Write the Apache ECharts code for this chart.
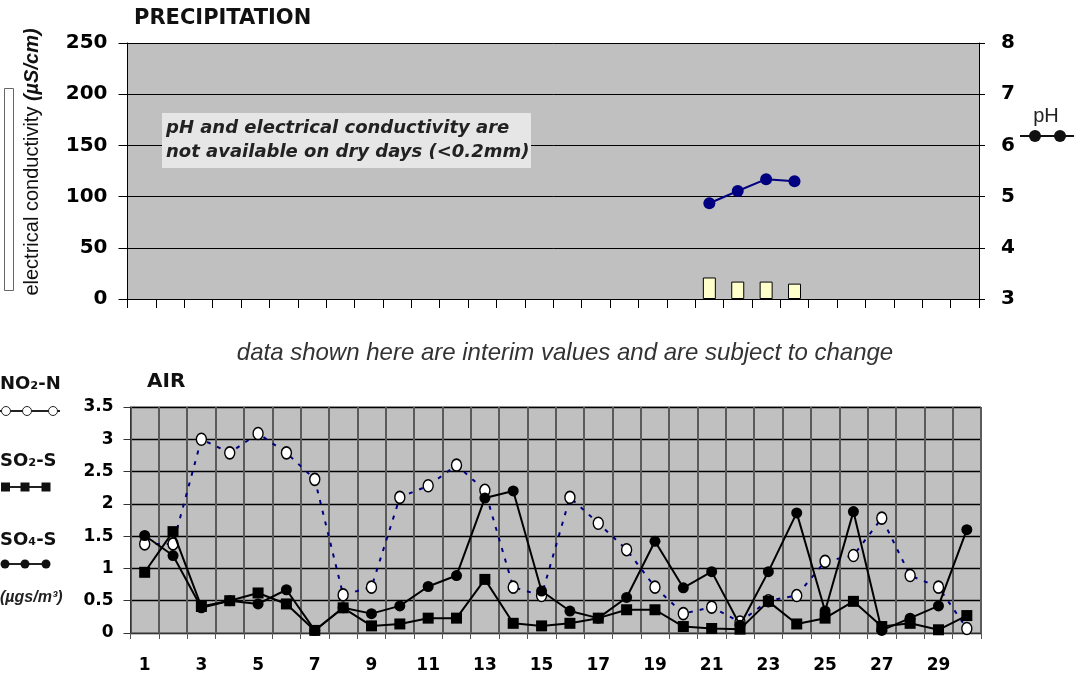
<!DOCTYPE html>
<html>
<head>
<meta charset="utf-8">
<script src="https://cdn.jsdelivr.net/npm/echarts@6/dist/echarts.min.js"></script>
<style>
html,body{margin:0;padding:0;background:#fff;}
#chart{width:1074px;height:674px;}
</style>
</head>
<body>
<div id="chart"></div>
<script>
// ---- data ----
const days = ['1','2','3','4','5','6','7','8','9','10','11','12','13','14','15','16','17','18','19','20','21','22','23','24','25','26','27','28','29','30'];
const ecTicks = [0, 50, 100, 150, 200, 250];
const phTicks = [3, 4, 5, 6, 7, 8];
const airTicks = [0, 0.5, 1, 1.5, 2, 2.5, 3, 3.5];
// electrical conductivity (uS/cm), only days 21-24
const conductivity = ['-','-','-','-','-','-','-','-','-','-','-','-','-','-','-','-','-','-','-','-',21,17,17,15,'-','-','-','-','-','-'];
// pH, only days 21-24
const ph = ['-','-','-','-','-','-','-','-','-','-','-','-','-','-','-','-','-','-','-','-',4.87,5.11,5.34,5.30,'-','-','-','-','-','-'];
// air (ugs/m3)
const no2n = [1.38,1.38,3.0,2.79,3.09,2.79,2.38,0.59,0.71,2.10,2.28,2.60,2.21,0.71,0.58,2.10,1.70,1.29,0.71,0.30,0.40,0.17,0.50,0.58,1.11,1.20,1.78,0.89,0.71,0.07];
const so2s = [0.94,1.57,0.41,0.50,0.62,0.45,0.04,0.39,0.11,0.14,0.23,0.23,0.83,0.15,0.11,0.15,0.23,0.36,0.36,0.10,0.07,0.06,0.49,0.14,0.23,0.49,0.10,0.15,0.05,0.27];
const so4s = [1.51,1.20,0.39,0.50,0.45,0.67,0.04,0.39,0.30,0.42,0.72,0.89,2.09,2.20,0.65,0.34,0.23,0.55,1.42,0.70,0.95,0.12,0.95,1.86,0.34,1.88,0.04,0.23,0.42,1.60];

const NUM = 'DejaVu Sans';
const chart = echarts.init(document.getElementById('chart'), null, {renderer:'canvas'});

const option = {
  backgroundColor: '#ffffff',
  animation: false,
  grid: [
    {left: 127.5, top: 43, width: 851.5, height: 256, backgroundColor: '#c0c0c0', show: true, borderWidth: 0},
    {left: 130.5, top: 407, width: 850.5, height: 226, backgroundColor: '#c0c0c0', show: true, borderColor: '#808080', borderWidth: 1}
  ],
  xAxis: [
    {gridIndex: 0, type: 'category', data: days, boundaryGap: true,
     axisLine: {lineStyle: {color: '#000', width: 1}},
     axisTick: {show: true, interval: 0, length: 9, lineStyle: {color: '#000'}},
     axisLabel: {show: false}, splitLine: {show: false}},
    {gridIndex: 1, type: 'category', data: days, boundaryGap: true,
     axisLine: {lineStyle: {color: '#333', width: 1}},
     axisTick: {show: true, interval: 0, length: 6, lineStyle: {color: '#555'}},
     axisLabel: {interval: 1, margin: 24, fontFamily: NUM, fontWeight: 'bold', fontSize: 17, color: '#000'},
     splitLine: {show: true, interval: 0, lineStyle: {color: '#5a5a5a', width: 2}}}
  ],
  yAxis: [
    {gridIndex: 0, type: 'value', min: ecTicks[0], max: ecTicks[ecTicks.length-1], interval: 50, position: 'left',
     axisLine: {show: true, lineStyle: {color: '#000'}},
     axisTick: {show: true, length: 9, lineStyle: {color: '#000'}},
     axisLabel: {margin: 20, fontFamily: NUM, fontWeight: 'bold', fontSize: 20, color: '#000'},
     splitLine: {show: true, lineStyle: {color: '#000', width: 1}}},
    {gridIndex: 0, type: 'value', min: phTicks[0], max: phTicks[phTicks.length-1], interval: 1, position: 'right',
     axisLine: {show: true, lineStyle: {color: '#000'}},
     axisTick: {show: true, length: 6, lineStyle: {color: '#000'}},
     axisLabel: {margin: 22, fontFamily: NUM, fontWeight: 'bold', fontSize: 20, color: '#000'},
     splitLine: {show: false}},
    {gridIndex: 1, type: 'value', min: airTicks[0], max: airTicks[airTicks.length-1], interval: 0.5,
     axisLine: {show: true, lineStyle: {color: '#333'}},
     axisTick: {show: true, length: 7, lineStyle: {color: '#333'}},
     axisLabel: {margin: 17, fontFamily: NUM, fontWeight: 'bold', fontSize: 17, color: '#000'},
     splitLine: {show: true, lineStyle: {color: '#000', width: 1.3}}}
  ],
  series: [
    {name: 'electrical conductivity', type: 'bar', xAxisIndex: 0, yAxisIndex: 0, data: conductivity,
     barWidth: 13, itemStyle: {color: '#ffffcc', borderColor: '#000', borderWidth: 1}},
    {name: 'pH', type: 'line', xAxisIndex: 0, yAxisIndex: 1, data: ph,
     symbol: 'circle', symbolSize: 12, lineStyle: {color: '#000080', width: 2},
     itemStyle: {color: '#000080'}},
    {name: 'NO2-N', type: 'line', xAxisIndex: 1, yAxisIndex: 2, data: no2n,
     symbol: 'circle', symbolSize: [10, 12], lineStyle: {color: '#000080', width: 2, type: [4, 7]},
     itemStyle: {color: '#fff', borderColor: '#000', borderWidth: 1.5}, z: 3},
    {name: 'SO2-S', type: 'line', xAxisIndex: 1, yAxisIndex: 2, data: so2s,
     symbol: 'rect', symbolSize: 11, lineStyle: {color: '#000', width: 2},
     itemStyle: {color: '#000'}, z: 4},
    {name: 'SO4-S', type: 'line', xAxisIndex: 1, yAxisIndex: 2, data: so4s,
     symbol: 'circle', symbolSize: 11, lineStyle: {color: '#000', width: 2},
     itemStyle: {color: '#000'}, z: 5}
  ],
  graphic: [
    // titles
    {type: 'text', left: 134, top: 8, style: {text: 'PRECIPITATION', fontFamily: NUM, fontWeight: 'bold', fontSize: 21, fill: '#111'}},
    {type: 'text', left: 147, top: 372, style: {text: 'AIR', fontFamily: NUM, fontWeight: 'bold', fontSize: 20, fill: '#111'}},
    // left vertical axis title with legend box
    {type: 'rect', shape: {x: 4.5, y: 88.5, width: 9, height: 202}, style: {fill: '#fff', stroke: '#666', lineWidth: 1}},
    {type: 'text', x: 32, y: 162, rotation: Math.PI / 2,
     style: {text: '{a|electrical conductivity }{b|(µS/cm)}', align: 'center', verticalAlign: 'middle',
       rich: {a: {fontFamily: 'Liberation Sans', fontSize: 20, fill: '#111'},
              b: {fontFamily: 'Liberation Sans', fontSize: 20, fontWeight: 'bold', fontStyle: 'italic', fill: '#111'}}}},
    // annotation box
    {type: 'rect', shape: {x: 162, y: 113, width: 369, height: 55}, style: {fill: '#e6e6e6'}, z: 10},
    {type: 'text', x: 166, y: 116, z: 11,
     style: {text: 'pH and electrical conductivity are\nnot available on dry days (<0.2mm)', fontFamily: NUM,
       fontWeight: 'bold', fontStyle: 'italic', fontSize: 18, lineHeight: 24, fill: '#222'}},
    // interim note
    {type: 'text', x: 565, y: 353,
     style: {text: 'data shown here are interim values and are subject to change', align: 'center', verticalAlign: 'middle',
       fontFamily: 'Liberation Sans', fontStyle: 'italic', fontSize: 24, fill: '#333'}},
    // pH legend
    {type: 'text', x: 1046, y: 116, style: {text: 'pH', align: 'center', verticalAlign: 'middle', fontFamily: 'Liberation Sans', fontSize: 20, fill: '#222'}},
    {type: 'line', shape: {x1: 1020, y1: 136, x2: 1074, y2: 136}, style: {stroke: '#111', lineWidth: 2}},
    {type: 'circle', shape: {cx: 1035, cy: 136, r: 6}, style: {fill: '#111'}},
    {type: 'circle', shape: {cx: 1060, cy: 136, r: 6}, style: {fill: '#111'}},
    // air legend
    {type: 'text', x: 0, y: 384, style: {text: 'NO₂-N', verticalAlign: 'middle', fontFamily: NUM, fontWeight: 'bold', fontSize: 18, fill: '#111'}},
    {type: 'line', shape: {x1: 0, y1: 411, x2: 60, y2: 411}, style: {stroke: '#222', lineWidth: 2}},
    {type: 'ellipse', shape: {cx: 6, cy: 411, rx: 4.5, ry: 4.5}, style: {fill: '#fff', stroke: '#222', lineWidth: 1}},
    {type: 'ellipse', shape: {cx: 27, cy: 411, rx: 4.5, ry: 4.5}, style: {fill: '#fff', stroke: '#222', lineWidth: 1}},
    {type: 'ellipse', shape: {cx: 53, cy: 411, rx: 4.5, ry: 4.5}, style: {fill: '#fff', stroke: '#222', lineWidth: 1}},
    {type: 'text', x: 0, y: 461, style: {text: 'SO₂-S', verticalAlign: 'middle', fontFamily: NUM, fontWeight: 'bold', fontSize: 18, fill: '#111'}},
    {type: 'line', shape: {x1: 1, y1: 487, x2: 50, y2: 487}, style: {stroke: '#222', lineWidth: 2}},
    {type: 'rect', shape: {x: 1, y: 482.5, width: 9, height: 9}, style: {fill: '#111'}},
    {type: 'rect', shape: {x: 20.5, y: 482.5, width: 9, height: 9}, style: {fill: '#111'}},
    {type: 'rect', shape: {x: 41.5, y: 482.5, width: 9, height: 9}, style: {fill: '#111'}},
    {type: 'text', x: 0, y: 540, style: {text: 'SO₄-S', verticalAlign: 'middle', fontFamily: NUM, fontWeight: 'bold', fontSize: 18, fill: '#111'}},
    {type: 'line', shape: {x1: 1, y1: 564, x2: 50, y2: 564}, style: {stroke: '#222', lineWidth: 2}},
    {type: 'circle', shape: {cx: 5, cy: 564, r: 4.5}, style: {fill: '#111'}},
    {type: 'circle', shape: {cx: 25, cy: 564, r: 4.5}, style: {fill: '#111'}},
    {type: 'circle', shape: {cx: 46, cy: 564, r: 4.5}, style: {fill: '#111'}},
    {type: 'text', x: 0, y: 598, style: {text: '(µgs/m³)', verticalAlign: 'middle', fontFamily: 'Liberation Sans', fontWeight: 'bold', fontStyle: 'italic', fontSize: 16, fill: '#222'}}
  ]
};
chart.setOption(option);
</script>
</body>
</html>
